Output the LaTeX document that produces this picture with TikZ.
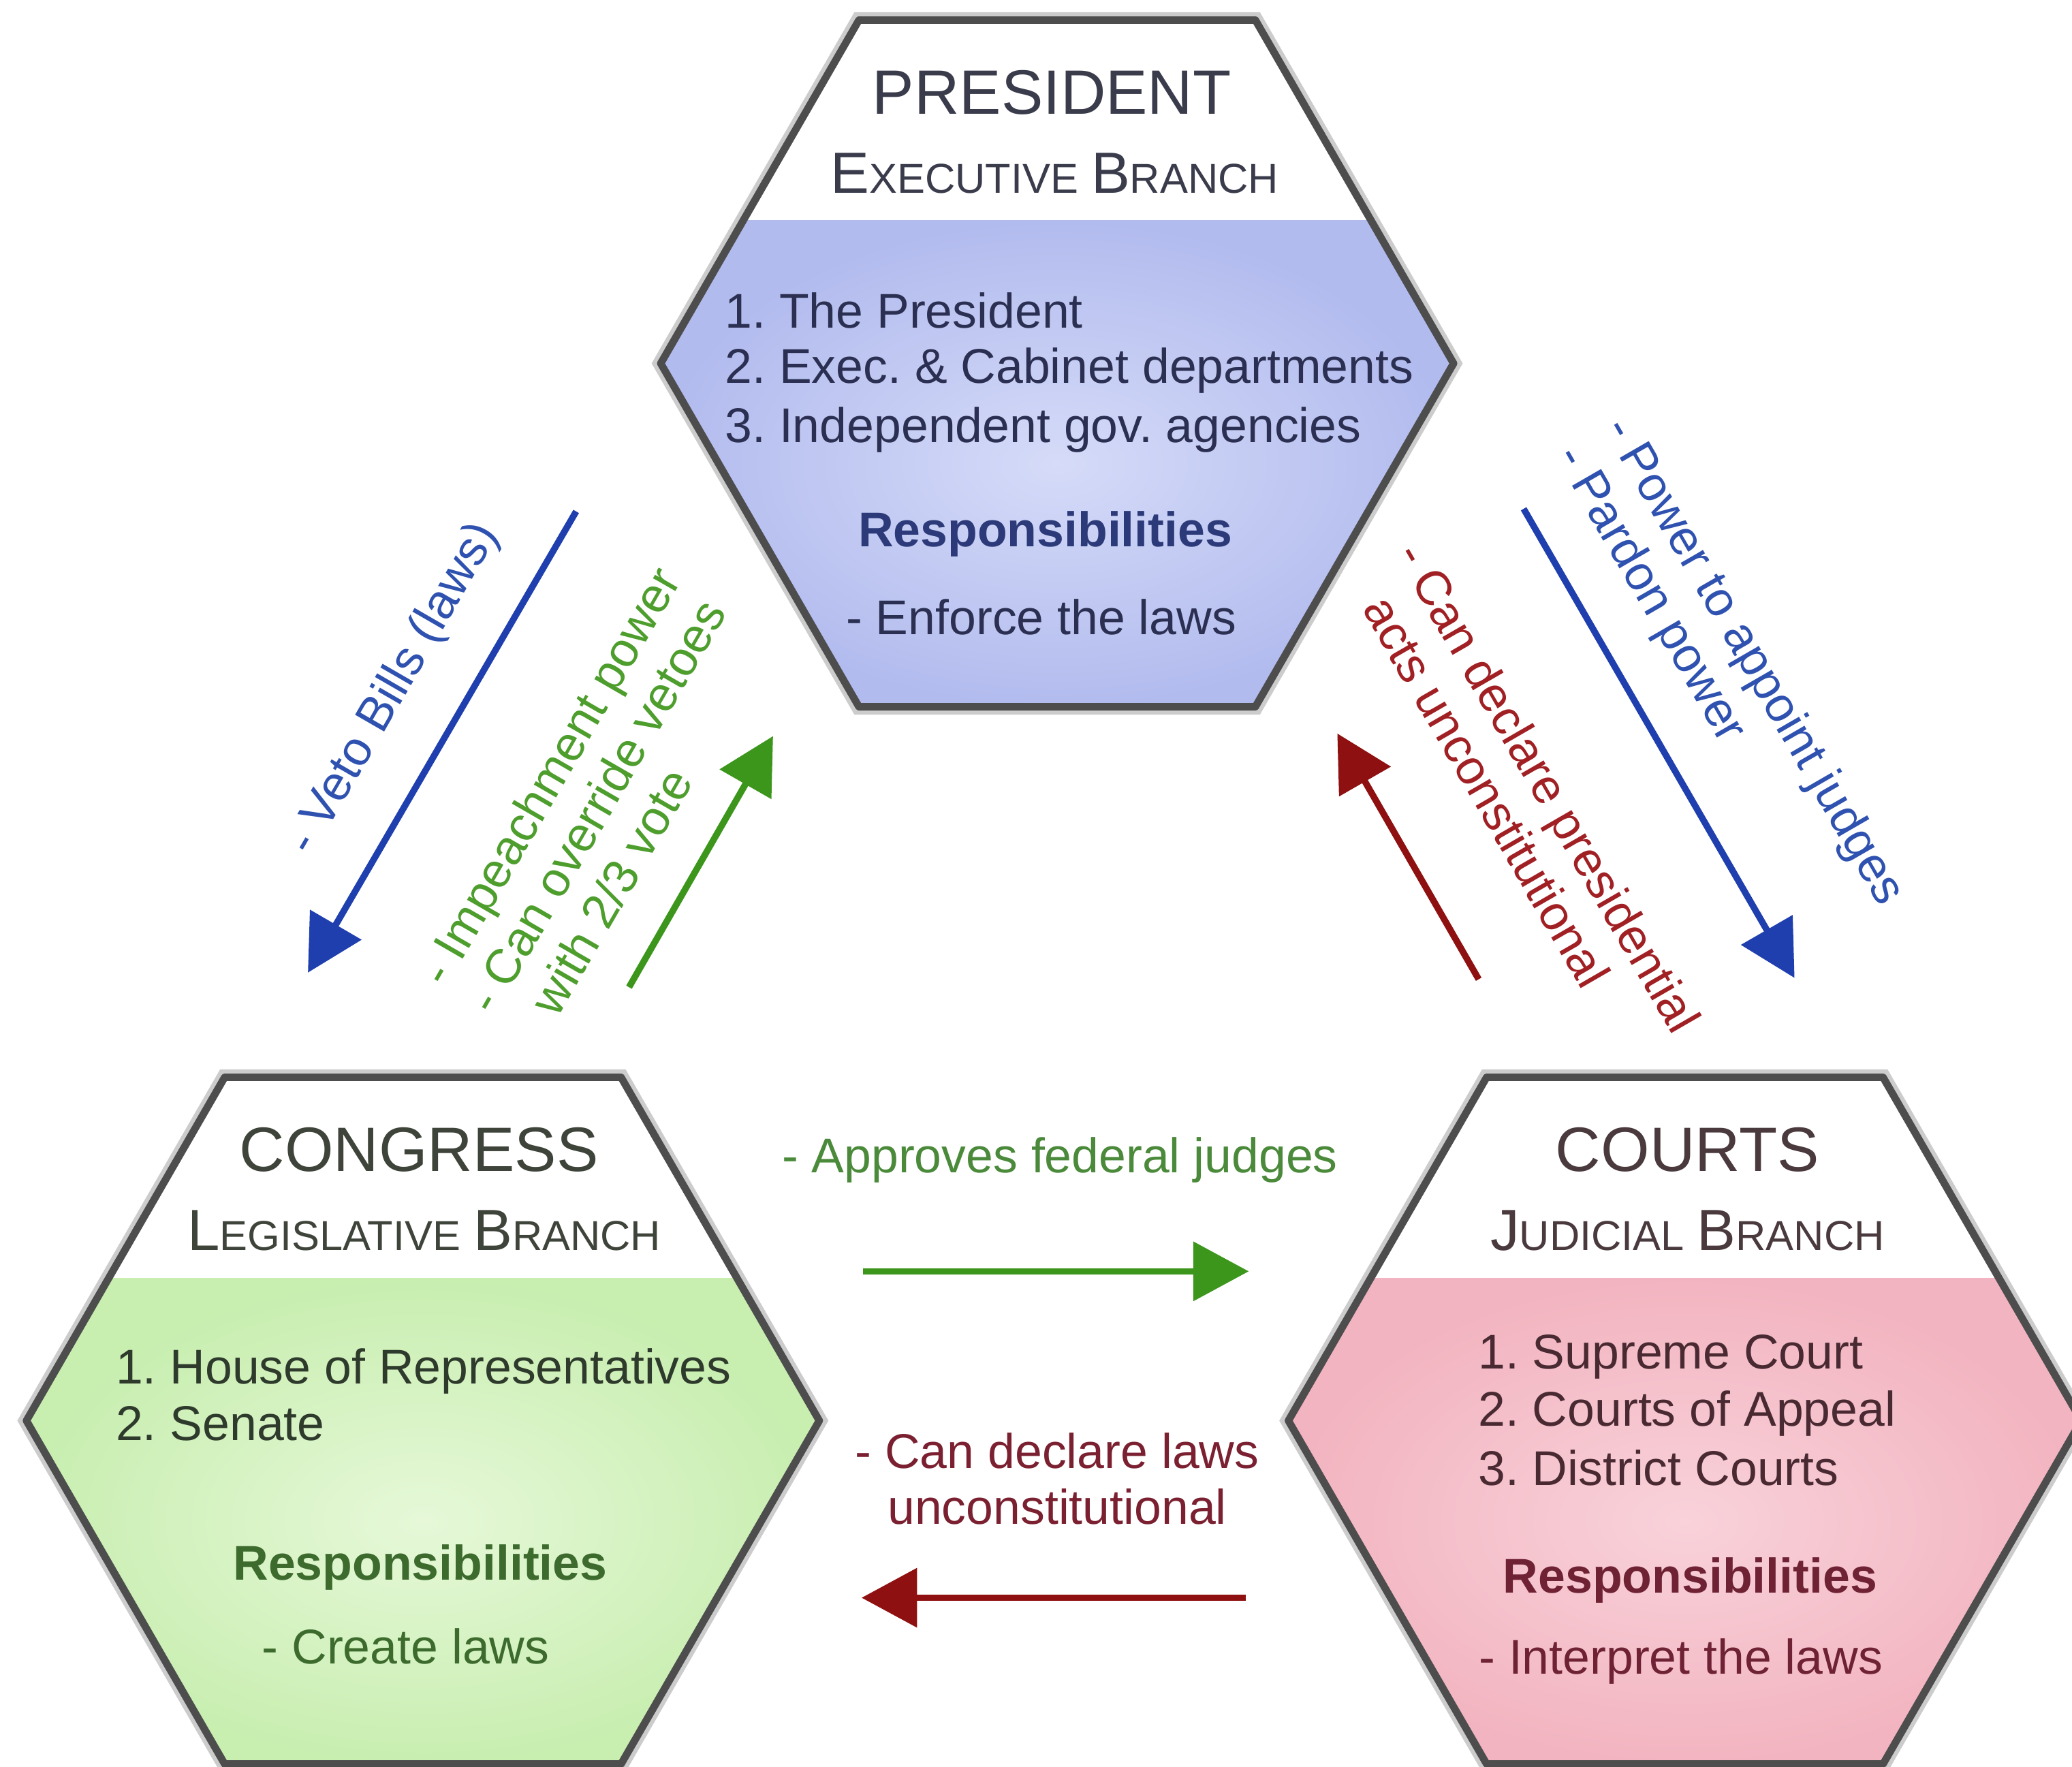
\documentclass[tikz,border=0pt]{standalone}
\usepackage{fontspec}
\setmainfont{Liberation Sans}
\usetikzlibrary{arrows.meta}

\definecolor{hexline}{HTML}{4D4D4D}
\definecolor{presin}{HTML}{D5DBF8}
\definecolor{presout}{HTML}{B2BBEE}
\definecolor{congin}{HTML}{E6F8D8}
\definecolor{congout}{HTML}{C8EEB0}
\definecolor{courtin}{HTML}{F9D2DA}
\definecolor{courtout}{HTML}{F2B4C0}
\definecolor{presink}{HTML}{2B3052}
\definecolor{presresp}{HTML}{2C3A7A}
\definecolor{congink}{HTML}{2E3A2C}
\definecolor{congresp}{HTML}{3D6B2E}
\definecolor{courtink}{HTML}{4A2A32}
\definecolor{courtresp}{HTML}{6E2234}
\definecolor{prestitle}{HTML}{3A3C4C}
\definecolor{congtitle}{HTML}{3E443A}
\definecolor{courttitle}{HTML}{4A3A3E}
\definecolor{arrblue}{HTML}{1F3FAE}
\definecolor{txtblue}{HTML}{2F52B0}
\definecolor{arrgreen}{HTML}{3C961C}
\definecolor{txtgreen}{HTML}{4E9E2E}
\definecolor{txtolive}{HTML}{4A8A3A}
\definecolor{arrred}{HTML}{8E1010}
\definecolor{txtred}{HTML}{A02024}
\definecolor{txtmaroon}{HTML}{7A2030}

\newcommand{\capbig}[1]{{\fontsize{12.5}{15}\selectfont #1}}
\newcommand{\capsmall}[1]{{\fontsize{9}{11}\selectfont #1}}
\frenchspacing

\tikzset{
  hexborder/.style={draw=hexline, line width=1.6pt, line join=round},
  hextitle/.style={font=\fontsize{13.5}{16}\selectfont},
  body/.style={font=\fontsize{10.5}{12.5}\selectfont, anchor=base west, inner sep=0pt},
  resp/.style={font=\bfseries\fontsize{10.5}{12.5}\selectfont},
  lbl/.style={font=\fontsize{10.5}{12}\selectfont, align=left},
  checkarrow/.style={line width=1.4pt, -{Triangle[length=0.42cm, width=0.44cm]}},
}

\begin{document}
\begin{tikzpicture}
\useasboundingbox (0,0) rectangle (15.68,-13.37);

% the three branches
\foreach \cx/\cy/\cin/\cout in {8/-2.75/presin/presout, 3.2/-10.75/congin/congout, 12.75/-10.75/courtin/courtout}{
  \begin{scope}[shift={(\cx,\cy)}]
    \draw[line width=3.4pt, black!20] (-3,0) -- (-1.5,2.598) -- (1.5,2.598) -- (3,0) -- (1.5,-2.598) -- (-1.5,-2.598) -- cycle;
    \fill[white] (-3,0) -- (-1.5,2.598) -- (1.5,2.598) -- (3,0) -- (1.5,-2.598) -- (-1.5,-2.598) -- cycle;
    \begin{scope}
      \clip (-3,0) -- (-1.5,2.598) -- (1.5,2.598) -- (3,0) -- (1.5,-2.598) -- (-1.5,-2.598) -- cycle;
      \shade[inner color=\cin, outer color=\cout] (-3,1.08) rectangle (3,-2.6);
    \end{scope}
    \draw[hexborder] (-3,0) -- (-1.5,2.598) -- (1.5,2.598) -- (3,0) -- (1.5,-2.598) -- (-1.5,-2.598) -- cycle;
  \end{scope}
}

% president
\node[hextitle, prestitle] (prestitle) at (7.96,-0.70) {PRESIDENT};
\node[prestitle] (presbranch) at (7.98,-1.31) {\capbig{E}\capsmall{XECUTIVE} \capbig{B}\capsmall{RANCH}};
\node[body, presink] (presA) at (5.48,-2.48) {1. The President};
\node[body, presink] (presB) at (5.48,-2.90) {2. Exec. \& Cabinet departments};
\node[body, presink] (presC) at (5.48,-3.35) {3. Independent gov. agencies};
\node[resp, presresp] (presresp) at (7.91,-4.04) {Responsibilities};
\node[body, anchor=center, presink] (presduty) at (7.88,-4.67) {- Enforce the laws};

% congress
\node[hextitle, congtitle] (congtitle) at (3.17,-8.70) {CONGRESS};
\node[congtitle] (congbranch) at (3.21,-9.31) {\capbig{L}\capsmall{EGISLATIVE} \capbig{B}\capsmall{RANCH}};
\node[body, congink] (congA) at (0.87,-10.47) {1. House of Representatives};
\node[body, congink] (congB) at (0.87,-10.90) {2. Senate};
\node[resp, congresp] (congresp) at (3.18,-11.86) {Responsibilities};
\node[body, anchor=center, congresp] (congduty) at (3.07,-12.46) {- Create laws};

% courts
\node[hextitle, courttitle] (courttitle) at (12.77,-8.70) {COURTS};
\node[courttitle] (courtbranch) at (12.77,-9.31) {\capbig{J}\capsmall{UDICIAL} \capbig{B}\capsmall{RANCH}};
\node[body, courtink] (courtA) at (11.18,-10.36) {1. Supreme Court};
\node[body, courtink] (courtB) at (11.18,-10.79) {2. Courts of Appeal};
\node[body, courtink] (courtC) at (11.18,-11.24) {3. District Courts};
\node[resp, courtresp] (courtresp) at (12.79,-11.96) {Responsibilities};
\node[body, anchor=center, courtresp] (courtduty) at (12.72,-12.57) {- Interpret the laws};

% checks and balances
\coordinate (vetoA) at (4.36,-3.87);
\coordinate (vetoB) at (2.33,-7.36);
\draw[checkarrow, arrblue] (vetoA) -- (vetoB);
\node[lbl, rotate=60, txtblue] (vetolbl) at (2.985,-5.215) {- Veto Bills (laws)};

\coordinate (impA) at (4.76,-7.47);
\coordinate (impB) at (5.85,-5.57);
\draw[checkarrow, arrgreen] (impA) -- (impB);
\node[lbl, rotate=60, txtgreen] (implbl) at (4.52,-6.08) {- Impeachment power\\- Can override vetoes\\\hphantom{- }with 2/3 vote};

\coordinate (appA) at (11.53,-3.85);
\coordinate (appB) at (13.58,-7.40);
\draw[checkarrow, arrblue] (appA) -- (appB);
\node[lbl, rotate=-60, txtblue] (applbl) at (13.08,-5.115) {- Power to appoint judges\\- Pardon power};

\coordinate (actsA) at (11.19,-7.41);
\coordinate (actsB) at (10.12,-5.55);
\draw[checkarrow, arrred] (actsA) -- (actsB);
\node[lbl, rotate=-60, txtred] (actslbl) at (11.54,-6.06) {- Can declare presidential\\\hphantom{- }acts unconstitutional};

\coordinate (judgA) at (6.53,-9.62);
\coordinate (judgB) at (9.45,-9.62);
\draw[checkarrow, arrgreen] (judgA) -- (judgB);
\node[lbl, txtolive] (judglbl) at (8.02,-8.78) {- Approves federal judges};

\coordinate (lawsA) at (9.43,-12.09);
\coordinate (lawsB) at (6.52,-12.09);
\draw[checkarrow, arrred] (lawsA) -- (lawsB);
\node[lbl, align=center, txtmaroon] (lawslbl) at (8.00,-11.19) {- Can declare laws\\unconstitutional};
\end{tikzpicture}
\end{document}
